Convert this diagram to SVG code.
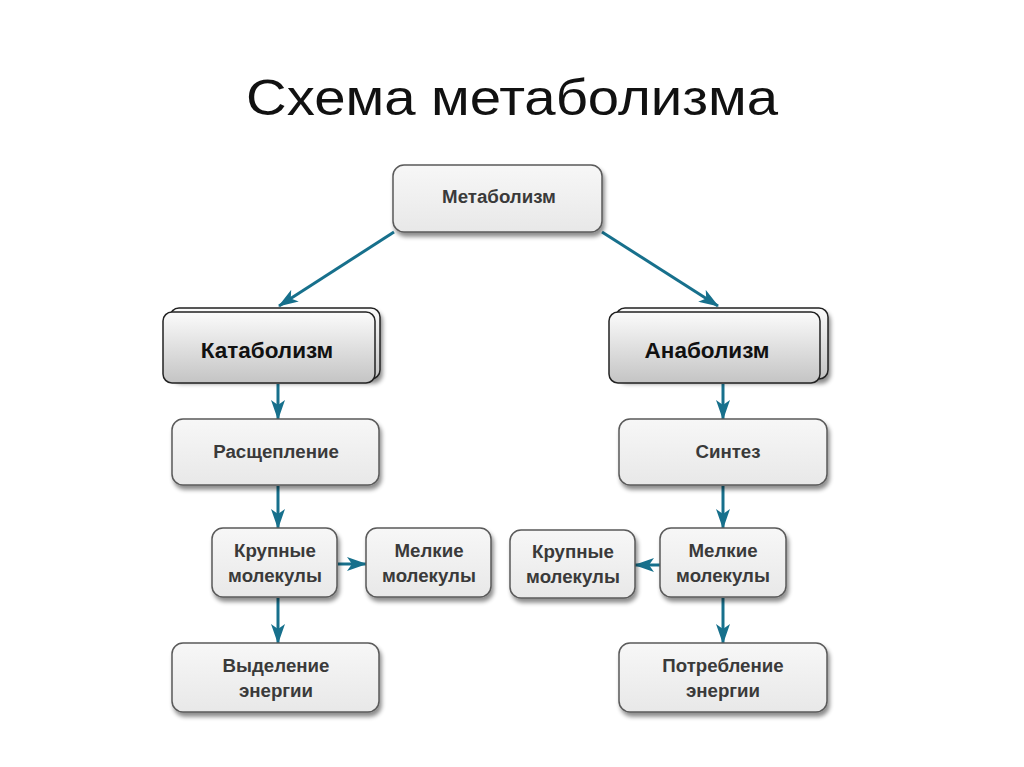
<svg xmlns="http://www.w3.org/2000/svg" width="1024" height="767" viewBox="0 0 1024 767">
<defs>
<linearGradient id="g1" x1="0" y1="0" x2="0" y2="1">
<stop offset="0" stop-color="#f7f7f7"/>
<stop offset="1" stop-color="#e8e8e8"/>
</linearGradient>
<linearGradient id="g2" x1="0" y1="0" x2="0" y2="1">
<stop offset="0" stop-color="#fbfbfb"/>
<stop offset="1" stop-color="#c4c4c4"/>
</linearGradient>
<filter id="sh" x="-10%" y="-10%" width="130%" height="140%">
<feDropShadow dx="2" dy="4" stdDeviation="2" flood-color="#000" flood-opacity="0.45"/>
</filter>
<marker id="ah" viewBox="0 0 20 14" refX="19" refY="7" markerWidth="20" markerHeight="14" markerUnits="userSpaceOnUse" orient="auto">
<path d="M0,0 L20,7 L0,14 L5,7 z" fill="#17708c"/>
</marker>
<style>
.box{fill:url(#g1);stroke:#5a5a5a;stroke-width:1.5;filter:url(#sh)}
.big{fill:url(#g2);stroke:#222;stroke-width:1.5}
.t{font-family:"Liberation Sans",Arial,sans-serif;font-weight:bold;font-size:18.7px;fill:#3a3a3a;text-anchor:middle}
.tb{font-family:"Liberation Sans",Arial,sans-serif;font-weight:bold;font-size:22.5px;fill:#111;text-anchor:middle}
.c{stroke:#17708c;stroke-width:3;fill:none;marker-end:url(#ah)}
</style>
</defs>
<rect width="1024" height="767" fill="#fff"/>
<text x="512" y="115" font-family="Liberation Sans,Arial,sans-serif" font-size="50" fill="#111" text-anchor="middle" textLength="532" lengthAdjust="spacingAndGlyphs">Схема метаболизма</text>
<g id="connectors">
<line class="c" x1="394" y1="232" x2="279" y2="306"/>
<line class="c" x1="602" y1="232" x2="718" y2="306"/>
<line class="c" x1="278" y1="384" x2="278" y2="419"/>
<line class="c" x1="278" y1="486" x2="278" y2="528"/>
<line class="c" x1="278" y1="598" x2="278" y2="643"/>
<line class="c" x1="338" y1="564" x2="366" y2="564"/>
<line class="c" x1="723" y1="384" x2="723" y2="419"/>
<line class="c" x1="723" y1="486" x2="723" y2="528"/>
<line class="c" x1="723" y1="598" x2="723" y2="643"/>
<line class="c" x1="660" y1="565" x2="635" y2="565"/>
</g>
<g id="metabolism">
<rect class="box" x="393" y="165" width="209" height="67" rx="11"/>
<text class="t" x="499" y="203">Метаболизм</text>
</g>
<g id="catabolism">
<rect class="big" x="170" y="308" width="210" height="71" rx="9" style="filter:url(#sh)"/>
<rect class="big" x="163" y="312" width="212" height="71" rx="9"/>
<text class="tb" x="267" y="358">Катаболизм</text>
</g>
<g id="anabolism">
<rect class="big" x="616" y="308" width="212" height="71" rx="9" style="filter:url(#sh)"/>
<rect class="big" x="609" y="312" width="211" height="71" rx="9"/>
<text class="tb" x="707" y="358">Анаболизм</text>
</g>
<g id="split">
<rect class="box" x="172" y="419" width="207" height="66" rx="11"/>
<text class="t" x="276" y="458">Расщепление</text>
</g>
<g id="synthesis">
<rect class="box" x="619" y="419" width="208" height="66" rx="11"/>
<text class="t" x="728" y="458">Синтез</text>
</g>
<g id="large-left">
<rect class="box" x="212" y="528" width="125" height="69" rx="11"/>
<text class="t" x="275" y="557">Крупные</text>
<text class="t" x="275" y="582">молекулы</text>
</g>
<g id="small-left">
<rect class="box" x="366" y="528" width="125" height="69" rx="11"/>
<text class="t" x="429" y="557">Мелкие</text>
<text class="t" x="429" y="582">молекулы</text>
</g>
<g id="large-right">
<rect class="box" x="510" y="530" width="125" height="68" rx="11"/>
<text class="t" x="573" y="558">Крупные</text>
<text class="t" x="573" y="583">молекулы</text>
</g>
<g id="small-right">
<rect class="box" x="660" y="528" width="126" height="69" rx="11"/>
<text class="t" x="723" y="557">Мелкие</text>
<text class="t" x="723" y="582">молекулы</text>
</g>
<g id="release">
<rect class="box" x="172" y="643" width="207" height="69" rx="11"/>
<text class="t" x="276" y="672">Выделение</text>
<text class="t" x="276" y="697">энергии</text>
</g>
<g id="consumption">
<rect class="box" x="619" y="643" width="208" height="69" rx="11"/>
<text class="t" x="723" y="672">Потребление</text>
<text class="t" x="723" y="697">энергии</text>
</g>
</svg>
